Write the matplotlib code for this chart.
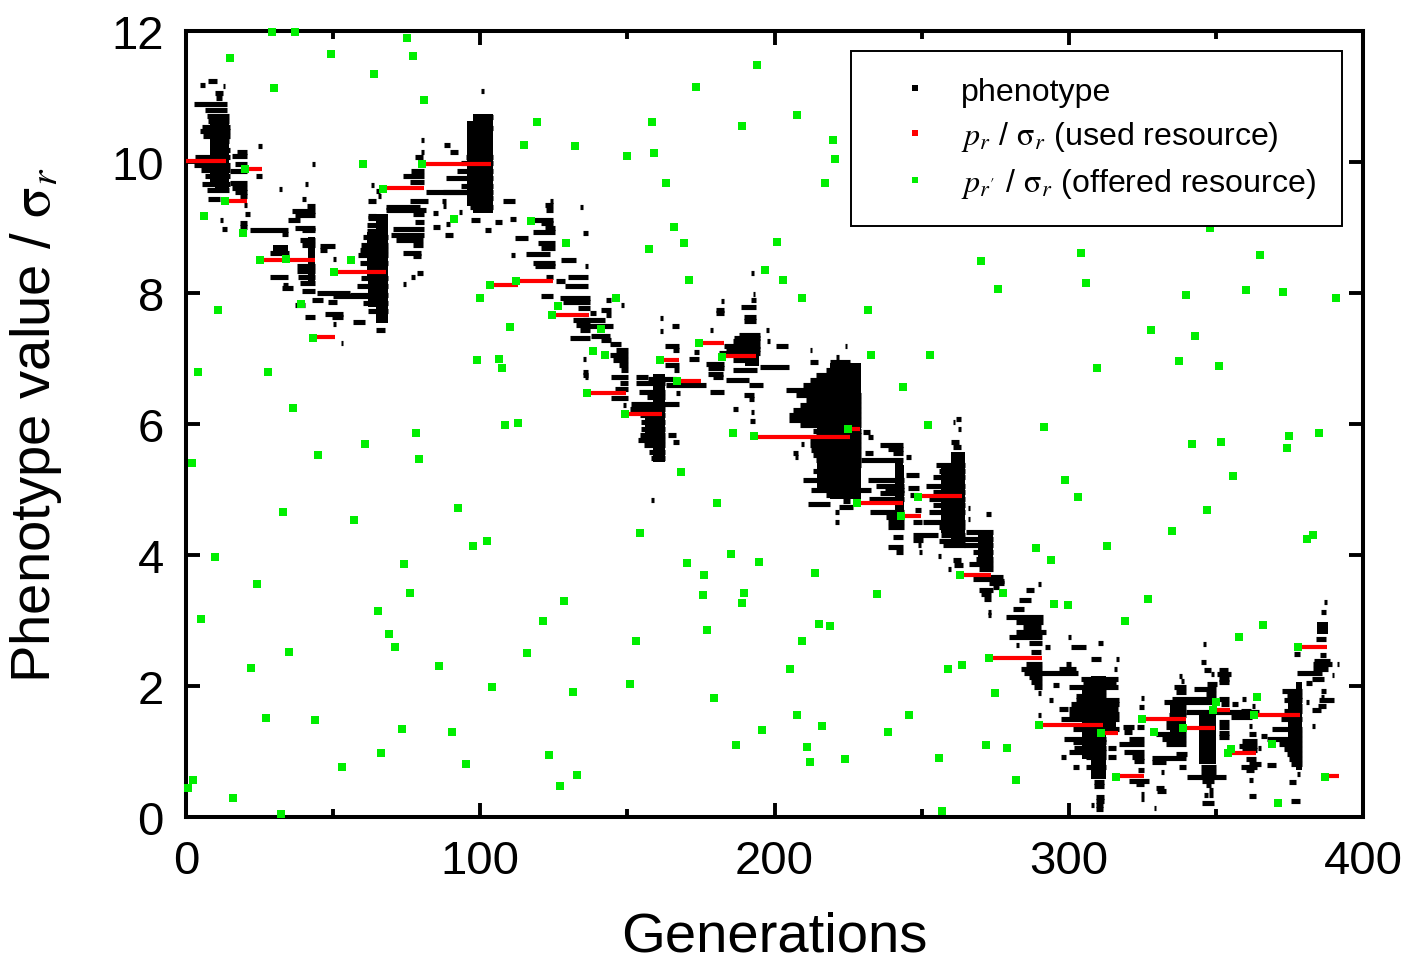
import matplotlib
matplotlib.use("Agg")
import matplotlib.pyplot as plt
from matplotlib.lines import Line2D

plt.rcParams['font.family'] = ['Liberation Sans', 'DejaVu Sans']
plt.rcParams['mathtext.fontset'] = 'stix'

# values were read against a baseline about 2 px too high
READ_OFFSET = 0.03

# used resource: start generation, end generation, value
used_start = [0, 13, 20, 25.1, 43.2, 50.1, 67, 80.1, 103.1, 112.2, 124.2, 136.2, 149, 161, 167.2, 174.1,
              182.2, 192.9, 225.1, 228, 243, 249, 263.2, 273, 290, 311.1, 316, 325, 339, 349, 354, 362.9, 378, 387]
used_end = [13.6, 20.8, 25.7, 43.8, 50.8, 67.8, 81, 103.8, 112.8, 124.7, 137, 149.6, 161.7, 167.7, 174.9, 182.8,
            193.6, 225.8, 228.9, 243.7, 249.8, 263.6, 273.6, 290.8, 311.7, 316.8, 325.7, 339.8, 349.7, 354.7, 363.5, 378.6, 387.6, 391.8]
used_value = [9.99, 9.37, 9.86, 8.48, 7.3, 8.29, 9.57, 9.94, 8.09, 8.16, 7.64, 6.44, 6.13, 6.94, 6.62, 7.2,
              7.01, 5.77, 5.89, 4.77, 4.57, 4.87, 3.67, 2.4, 1.38, 1.25, 0.59, 1.46, 1.33, 1.6, 0.94, 1.53, 2.56, 0.59]

# offered resources
offered_gen = [0.7, 2.4, 2, 4.1, 5.1, 6.1, 9.8, 10.9, 13.2, 14.9, 16, 19.4, 20, 22.1, 24.1, 25.1, 27.2, 27.8, 29.9, 29.2,
               32.3, 32.9, 34, 35, 36.3, 37, 39, 43.8, 44.8, 43.1, 49.2, 53, 50.3, 56, 57, 60, 61, 64, 65.2, 66.2,
               66.9, 69, 71, 73.3, 74, 75, 76, 77, 78, 79.1, 81, 80.1, 86, 90.3, 91, 92.4, 95, 97.5, 99, 99.8,
               102.2, 103.2, 106.3, 107.3, 103.9, 108.3, 110, 112.7, 112, 115, 119.2, 116, 117.2, 121.2, 123.3, 132.1,
               124.3, 126.3, 129, 127, 128.4, 131.4, 133, 136.2, 138.2, 146.3, 141.2, 142.3, 171.1, 196.9, 203, 209.2,
               231.9, 270.3, 276, 232.9, 253, 243.8, 252, 161, 174.2, 182.3, 167, 149.1, 192.9, 186, 225.1, 168.1,
               180.3, 228.2, 243.1, 248.9, 263.2, 154.2, 185.1, 194.9, 170.1, 175.9, 213.9, 173.2, 193.9, 188.8, 207.8,
               220, 220.7, 217, 201, 166, 169.4, 158.2, 158.9, 150, 163, 157.2, 348, 304, 306, 365, 360.3, 372.8,
               339.9, 390.8, 343, 328, 337.5, 351, 309.7, 291.7, 374.9, 385, 342, 351.8, 374.2, 355.9, 298.8, 303.2,
               347, 313, 335, 289, 294, 381, 383, 327, 295, 299.8, 277.8, 319.2, 366, 357.9, 378, 273, 263.8, 275,
               364, 350, 349, 363, 325, 290, 338.9, 329, 311, 369, 272, 279, 355, 354, 316, 282, 387, 371, 257, 256,
               245.8, 238.7, 224, 211.2, 212.2, 216.3, 207.5, 195.9, 187, 205.4, 209.5, 215, 219, 235, 188.8, 189.8,
               175.6, 176.9, 179.3, 152.8, 150.8, 259]
offered_value = [0.41, 0.54, 5.38, 6.77, 3, 9.14, 3.94, 7.71, 9.37, 11.56, 0.26, 8.88, 9.86, 2.25, 3.52, 8.47, 1.48, 6.76, 11.1, 11.96,
                 0.02, 4.63, 8.49, 2.49, 6.22, 11.96, 7.8, 1.45, 5.5, 7.29, 11.62, 0.73, 8.29, 8.47, 4.5, 9.94, 5.67, 11.31, 3.12, 0.95,
                 9.56, 2.77, 2.57, 1.32, 3.84, 11.87, 3.39, 11.59, 5.84, 5.43, 10.92, 9.94, 2.28, 1.27, 9.1, 4.69, 0.78, 4.1, 6.94, 7.9,
                 4.19, 8.09, 6.96, 6.82, 1.96, 5.95, 7.45, 5.98, 8.15, 10.23, 10.58, 2.48, 9.07, 2.97, 0.92, 10.21,
                 7.63, 7.77, 8.73, 0.44, 3.27, 1.88, 0.61, 6.44, 7.08, 7.89, 7.42, 7.03, 8.17, 8.32, 8.17, 7.9,
                 7.71, 8.46, 8.03, 7.02, 7.02, 6.53, 5.96, 6.94, 7.2, 7, 6.62, 6.13, 5.78, 5.83, 5.89, 5.23,
                 4.77, 4.77, 4.57, 4.86, 3.67, 4.3, 3.99, 3.87, 3.85, 3.67, 3.7, 11.12, 11.45, 10.52, 10.69,
                 10.31, 10.02, 9.65, 8.75, 8.98, 8.73, 10.58, 10.11, 10.06, 9.65, 8.64, 8.96, 8.58, 8.12, 8.55, 8.01, 7.98,
                 7.94, 7.89, 7.31, 7.4, 6.93, 6.85, 6.82, 5.93, 5.78, 5.83, 5.67, 5.69, 5.61, 5.18, 5.11, 4.86,
                 4.65, 4.11, 4.34, 4.07, 3.9, 4.22, 4.28, 3.3, 3.22, 3.2, 3.39, 2.97, 2.9, 2.72, 2.57, 2.4, 2.29, 1.87,
                 1.8, 1.73, 1.6, 1.53, 1.47, 1.38, 1.33, 1.27, 1.25, 1.09, 1.07, 1.02, 1.01, 0.95, 0.58, 0.54, 0.58, 0.18, 0.06, 0.87,
                 1.53, 1.27, 0.86, 1.04, 0.81, 1.36, 1.53, 1.3, 1.07, 2.23, 2.66, 2.92, 2.89, 3.38, 3.24, 3.39,
                 3.36, 2.83, 1.79, 2.65, 2, 2.23]

# phenotype: dense parts of the clouds (low value, high value, first gen, last gen)
dense_low = [9.52, 7.51, 8.07, 8.55, 9.19, 5.39, 4.83, 5.0, 4.07, 0.55, 0.78, 0.68, 2.77, 4.55, 6.85, 8.0,
             9.6, 8.2, 7.75, 9.3, 5.6, 4.3, 0.85, 1.3, 1.2, 1.0, 3.85, 4.95]
dense_high = [10.7, 9.17, 8.83, 8.71, 10.7, 6.74, 6.9, 5.4, 5.54, 2.13, 1.57, 2.03, 2.94, 5.35, 7.3, 8.3,
              10.65, 8.9, 8.2, 10.6, 6.3, 5.3, 1.95, 1.75, 1.72, 1.9, 4.32, 6.75]
dense_left = [9.8, 64.7, 41.5, 29.7, 97.6, 158.7, 219, 241, 260, 307.5, 344.3, 377.1, 384.5, 241, 190, 65,
              8, 61.5, 62, 95.5, 156, 256.5, 304.5, 312.6, 334.5, 374.5, 269, 214.5]
dense_right = [14.7, 68.7, 43.8, 34.7, 104.4, 162.7, 229.4, 243.6, 264.7, 312.6, 350, 379.4, 388, 243.9, 194.9, 68,
               9.8, 64.7, 64.7, 97.6, 158.7, 260, 307.5, 316, 339.8, 377.1, 274.2, 219]

# phenotype: streaks for each cloud (value, first gen, last gen)
cloud_a = [(11.21, 7.6, 10.6), (11.15, 4.8, 6.5), (11.13, 12.5, 13.2), (11.03, 9.8, 12.7), (10.95, 10.2, 12.1), (10.85, 2.7, 13.8),
           (10.77, 6.4, 13.8), (10.67, 7, 14.7), (10.6, 7.5, 14.7), (10.5, 5.3, 15), (10.44, 4.8, 15), (10.36, 5.9, 15),
           (10.29, 8.7, 14.7), (10.15, 8, 15), (10.04, 3, 15), (9.92, 2.7, 15), (9.85, 5, 15), (9.75, 6.5, 15),
           (9.63, 5.5, 15), (9.55, 7, 14.7)]
cloud_b = [(10.21, 24.6, 25.7), (10.13, 17.2, 20.6), (10.06, 15.5, 20.6), (9.94, 16.6, 20.6), (9.94, 42.7, 43.8), (9.83, 15, 20.6), (9.75, 23.8, 25.7),
           (9.65, 15, 20.6), (9.64, 40.4, 41.5), (9.57, 15.5, 20.6), (9.56, 31.6, 32.5), (9.51, 16.6, 20.6), (9.45, 18.4, 20.6), (9.41, 7.6, 11.5),
           (9.32, 19.7, 20.6), (9.17, 20, 21.7), (9.08, 11.5, 12.7), (9.04, 18.4, 20.6), (8.98, 18.4, 20.6), (8.95, 12.1, 13.8), (8.93, 21.7, 34.7),
           (8.87, 32.5, 34.7)]
cloud_c = [(9.4, 39.3, 40.8), (9.3, 41, 43.8), (9.22, 35.9, 43.8), (9.16, 37, 43.8), (9.08, 34.7, 38.7), (8.97, 37, 43.8), (8.93, 39.3, 43.8),
           (8.78, 38.7, 43.8), (8.71, 39.3, 43.8), (8.68, 45.6, 50.6), (8.63, 45.6, 48), (8.58, 28.5, 35), (8.49, 50, 51), (8.38, 37.6, 43.8),
           (8.3, 37.6, 43.8), (8.21, 28.5, 34.7), (8.22, 38, 43.8), (8.12, 38.7, 43.8), (8.04, 32.5, 36.4), (8.09, 33, 34.7), (8.0, 39.3, 43.8),
           (7.97, 44.4, 55.7), (7.93, 50, 68), (7.86, 42.7, 46.6), (7.84, 48.3, 51.2), (7.79, 37, 40.4), (7.65, 47.2, 53.4), (7.6, 40.6, 43.8),
           (7.6, 49.5, 53.4), (7.53, 56.8, 60.8), (7.49, 49.8, 51), (7.41, 64.7, 67.6), (7.21, 52.6, 53.4)]
cloud_d = [(9.11, 62, 68.2), (9.01, 61.5, 68.2), (8.91, 61.5, 68.2), (8.83, 60.2, 68.7), (8.71, 59.6, 68.7), (8.62, 59, 68.7), (8.55, 58.5, 68.7),
           (8.43, 59.1, 68.7), (8.2, 59.6, 68.7), (8.07, 58, 68.7), (7.94, 55.7, 68.7), (7.82, 60.2, 68.7), (7.69, 62, 68.7),
           (8.1, 73.8, 74.7), (8.22, 76.6, 77.8), (8.27, 78.5, 80.6)]
cloud_e = [(10.31, 80, 81), (10.13, 80, 81), (10.04, 77.8, 80.6), (9.84, 76.6, 81), (9.75, 73.8, 81), (9.66, 76, 81), (9.62, 63, 64),
           (9.52, 64.7, 65.9), (9.45, 65.2, 66.2), (9.37, 62, 64.7), (9.37, 76, 82.3), (9.29, 68.1, 79.5), (9.23, 68.1, 81.7),
           (9.14, 62, 64.7), (9.17, 77.2, 81), (9.06, 77.8, 81), (8.95, 70.4, 81), (8.86, 69.8, 81), (8.78, 71.5, 80.6), (8.71, 77.2, 80.6),
           (8.58, 73.8, 80), (8.53, 77.2, 80)]
cloud_f = [(11.05, 100.2, 101.2), (10.65, 97.6, 104.4), (10.49, 96.4, 104.4), (10.23, 87.6, 89.6), (10.12, 89.6, 92.5), (10.05, 95.3, 104.4), (9.95, 93.6, 104.4),
           (9.83, 92, 104.4), (9.73, 88.5, 104.4), (9.6, 93.6, 104.4), (9.51, 81.7, 96.4), (9.51, 87.4, 104.4), (9.42, 96.4, 104.4), (9.28, 96.4, 104.4),
           (9.37, 87, 88.5), (9.3, 87.4, 88.5), (9.19, 84, 85.7), (8.98, 84, 86.3), (8.86, 88, 90.8), (9.02, 88.5, 89.7), (9.2, 92.8, 93.8),
           (9.08, 97, 99.8), (9.05, 105, 107.5), (8.93, 101.5, 103.8), (9.1, 110, 112.3), (9.37, 107.8, 111.7)]
cloud_g = [(9.37, 123.6, 124.7), (9.32, 122, 124.7), (9.23, 122.5, 124.7), (9.29, 134, 135), (9.09, 116.8, 124.7), (9.04, 120.8, 124.7), (8.96, 121.9, 125.3),
           (8.9, 118, 125.3), (8.89, 135, 136.6), (8.81, 111.7, 116.3), (8.73, 119.7, 125.3), (8.66, 120.8, 125.3), (8.56, 115.7, 123.6), (8.55, 110.6, 111.7),
           (8.48, 127.6, 132.7), (8.43, 118, 125.3), (8.38, 118.5, 125.3), (8.38, 135.5, 136.6), (8.22, 122.5, 124.7), (8.15, 125.9, 128.7), (8.22, 129.8, 136.6),
           (8.07, 128.7, 136.6), (7.92, 120.8, 124.7), (7.89, 127, 137.2), (7.84, 128, 137.2), (7.74, 133.2, 137.2), (7.56, 131.5, 137.2), (7.48, 132.7, 137.2),
           (7.41, 134, 137.2), (7.28, 130.4, 137.2), (7.66, 137.2, 139.3), (6.97, 135, 136), (6.77, 135, 136.6), (6.69, 135.6, 136.6)]
cloud_h = [(7.86, 142.8, 144.5), (7.79, 148, 149), (7.71, 141.1, 144.5), (7.63, 142.8, 144.5), (7.56, 135, 142.3), (7.46, 135.5, 145), (7.32, 137.8, 144), (7.25, 141, 144.5),
           (7.19, 144, 148), (7.1, 146.2, 150.2), (7.02, 144, 150.2), (6.95, 145, 150.2), (6.87, 147, 150.2), (6.79, 148, 150.2), (6.72, 135, 136.6), (6.68, 144.5, 150.2),
           (6.68, 153, 157), (6.59, 147.4, 150.2), (6.51, 145.7, 150.2), (6.36, 144.5, 150.2), (6.26, 148.5, 149.5)]
cloud_i = [(6.66, 157, 162.7), (6.6, 153, 162.7), (6.46, 154, 162.7), (6.38, 156.5, 162.7), (6.27, 151.3, 167.7), (6.2, 150.8, 162.7), (6.1, 154.2, 162.7), (6.0, 154.7, 162.7),
           (5.9, 154.7, 162.7), (5.8, 154.2, 162.7), (5.8, 163.8, 166.6), (5.72, 153.6, 162.7), (5.7, 165.5, 167.7), (5.65, 155.8, 162.7), (5.55, 157.5, 162.7), (5.45, 158, 162.7),
           (6.44, 166.6, 168), (6.65, 161, 166.6), (6.56, 163.2, 176.8), (7.59, 161, 162), (7.39, 161, 162), (7.46, 165, 167.5), (7.16, 162.7, 167.7), (7.1, 165.5, 167.7),
           (6.97, 171, 174.5), (7.07, 172.8, 174.5), (6.87, 162.7, 167.7), (6.79, 166, 167.7), (4.81, 158, 159)]
cloud_j = [(8.27, 192, 193), (7.96, 192.7, 193.5), (7.86, 192, 193.8), (7.85, 181.9, 182.9), (7.76, 188.7, 193.8), (7.71, 180.2, 183), (7.66, 180, 183), (7.61, 189.8, 193.8),
           (7.54, 189.8, 193.8), (7.4, 178, 179), (7.4, 197, 198), (7.33, 188, 195), (7.28, 186.4, 195), (7.23, 185.9, 195), (7.16, 183, 195), (7.16, 200.6, 204.5),
           (7.11, 183.6, 195), (7.24, 197.5, 198.5), (7.05, 181.3, 195), (6.94, 185.9, 193.8), (6.88, 176.8, 183), (6.82, 177.4, 183), (6.8, 186, 194),
           (6.74, 177.4, 182.5), (6.84, 195, 205), (6.69, 179, 182.5), (6.64, 183.6, 191.5), (6.56, 191.5, 196), (6.46, 178, 183), (6.41, 189.8, 193.2), (6.35, 191.5, 193),
           (6.2, 185.9, 187.6), (6.15, 192, 193.2), (6.01, 191.7, 193.4)]
cloud_k = [(6.92, 218.7, 225.5), (6.87, 219.2, 226), (6.79, 217.5, 226.6), (6.72, 214.2, 227.2), (6.64, 212, 227.7), (6.56, 209.6, 228.3), (6.49, 204, 228.9), (6.41, 207.4, 229.4),
           (6.33, 210.8, 229.4), (6.26, 208.5, 229.4), (6.18, 206.2, 229.4), (6.1, 205, 229.4), (6.03, 205, 229.4), (5.95, 208.5, 229.4), (5.87, 213, 229.4), (5.8, 214, 229.4),
           (5.72, 212, 229.4), (5.65, 212, 229.4), (5.57, 212.5, 229.4), (5.49, 213, 229.4), (5.42, 214, 229.4), (5.34, 214.7, 229.4), (5.26, 213, 229), (5.19, 215.3, 228.5),
           (5.11, 209.6, 227.2), (5.03, 216.4, 227.2), (4.96, 212.5, 226.6), (4.88, 217.5, 225.5), (4.8, 223.2, 225.5), (4.75, 211.3, 218.7), (4.7, 222, 226.6),
           (7.16, 223.8, 224.8), (7.1, 211.9, 212.9), (7.0, 220.9, 222), (6.91, 212, 214.7), (4.63, 220.4, 222), (4.47, 220.4, 222), (5.52, 206.2, 208), (5.47, 206.8, 208),
           (5.67, 209, 210), (5.85, 230, 232.3), (5.77, 231.7, 233.4)]
cloud_l = [(5.65, 235.7, 243.6), (5.59, 238.5, 243.6), (5.52, 230.6, 233.4), (5.52, 240.2, 243.6), (5.46, 244.7, 246.4), (5.42, 229.4, 243.6), (5.19, 244.7, 249.2), (5.11, 231.7, 244.1),
           (5.03, 234.5, 244.1), (4.96, 227.2, 232.8), (4.96, 237.4, 244.1), (4.91, 235.7, 244.1), (4.82, 232, 244.1), (5.0, 245.3, 249.2), (4.88, 246, 248.7),
           (4.62, 232.3, 244.1), (4.55, 238, 244.1), (4.47, 238.5, 244.1), (4.4, 238.5, 244.1), (4.47, 247, 250), (4.24, 240.2, 243.6), (4.09, 238.5, 243.6), (4.01, 241.3, 243.6),
           (4.27, 247, 255.5), (4.2, 247, 250.4), (4.12, 248.7, 249.8), (4.01, 249, 250), (4.65, 247.8, 249.8)]
cloud_m = [(6.05, 261.7, 263.4), (6.0, 260.5, 261.5), (5.9, 262.5, 263.5), (5.7, 260, 262.8), (5.62, 260.6, 263.4), (5.34, 255, 264.7), (5.26, 256, 264.7), (5.16, 253.8, 264.7),
           (5.03, 251.5, 264.7), (4.93, 253.8, 264.7), (4.83, 252.6, 264.7), (4.73, 253.8, 264.7), (4.63, 252.6, 264.7), (4.47, 250.4, 264.7), (4.4, 256, 264.7), (4.27, 256.6, 264.7),
           (4.19, 256, 264.7), (4.12, 257.2, 264.7), (3.96, 255.5, 256.6), (3.89, 260.6, 263.4), (3.81, 261.1, 264), (3.76, 258.9, 260)]
cloud_n = [(4.68, 265.6, 266.6), (4.52, 265.6, 266.6), (4.6, 272, 273.5), (4.32, 265, 274.2), (4.22, 264.5, 274.2), (4.12, 264.5, 274.2), (4.01, 267.4, 274.2), (3.91, 268.5, 274.2), (3.84, 266.2, 274.2),
           (3.76, 269.6, 274.2), (3.61, 267.4, 276.4), (3.55, 273, 278), (3.48, 274.2, 276.4)]
cloud_o = [(3.63, 270.7, 277.5), (3.58, 274.1, 278.1), (3.53, 289.4, 290.5), (3.43, 269.6, 274.1), (3.43, 285.4, 288.3), (3.37, 270.2, 273.5), (3.29, 283.2, 287.1), (3.3, 271.3, 273.5), (3.15, 280.9, 284.9),
           (3.1, 272.4, 273.5), (3.05, 272.4, 273.5), (3.02, 278.6, 291.1), (2.94, 282, 291.1), (2.87, 284.3, 290.5), (2.79, 282, 292.2), (2.72, 279.8, 291), (2.72, 299.8, 300.7), (2.63, 286.6, 291),
           (2.59, 282.1, 283), (2.56, 292, 293.5), (2.56, 300.7, 305.8), (2.63, 309.8, 311.5), (2.49, 287.1, 290.5), (2.38, 307.5, 310.9), (2.38, 316, 317), (2.31, 285.4, 291),
           (2.23, 283.7, 291), (2.23, 296.8, 302.4), (2.17, 284.9, 303), (2.3, 299, 300.7), (2.23, 315.4, 316.4), (2.1, 286.6, 291), (2.03, 287.1, 291), (1.95, 288.3, 291), (1.87, 289.4, 290.5)]
cloud_p = [(2.08, 304, 316.6), (1.98, 294.5, 296.8), (2.03, 304.7, 316), (1.95, 300.1, 316.6), (1.9, 304.7, 312.6), (1.82, 302.4, 312.6), (1.75, 293.4, 294.5), (1.75, 302.4, 317), (1.69, 300.7, 317), (1.62, 296.8, 299.6),
           (1.62, 300.1, 316.6), (1.54, 300.1, 317), (1.47, 297.3, 317.1), (1.52, 289.6, 290.6), (1.31, 301.3, 317), (1.16, 298.5, 312.6), (1.11, 301.3, 312.6), (1.03, 301.9, 312.6), (0.96, 300.1, 312.6),
           (0.88, 297.3, 299), (0.88, 305.8, 312.6), (0.74, 301.3, 303.5), (0.73, 305.8, 312.6), (0.68, 308, 312), (0.5, 308.6, 312), (0.45, 308.6, 312), (0.27, 309.2, 312), (0.22, 309.2, 312),
           (0.15, 307.5, 308.6), (0.15, 309.4, 311.5), (0.09, 309.4, 311.5)]
cloud_q = [(1.79, 324.6, 325.6), (1.65, 324, 325.5), (1.34, 318.3, 322.2), (1.27, 318.9, 321.6), (1.34, 323.3, 325.6), (1.16, 320.5, 325.6), (1.08, 317.1, 325.6), (1.03, 313.2, 316), (0.96, 318.9, 325.6), (0.88, 313.2, 316),
           (0.89, 321.6, 325.6), (0.83, 322.2, 325.6), (0.69, 323.4, 325.6), (0.52, 320.5, 327.3), (0.47, 322.8, 325.6), (0.32, 324.5, 325.6), (0.25, 324.5, 325.6), (0.42, 329.6, 332.4), (0.37, 330.1, 332.9), (0.1, 329, 329.8)]
cloud_r = [(2.13, 337.5, 338.5), (2.05, 338.3, 339.3), (1.95, 335.8, 339.8), (1.88, 336.4, 339.8), (1.77, 335.2, 350), (1.72, 332.4, 350), (1.65, 335.2, 339.8), (1.58, 337, 339.8), (1.52, 334, 339.8), (1.42, 333, 339.5),
           (1.34, 333, 339.8), (1.24, 329.6, 339.8), (1.16, 331.8, 339.8), (1.08, 333, 339.8), (0.93, 336.4, 340.3), (0.87, 328.4, 339.8), (0.81, 328.4, 333), (0.74, 337.5, 339.8), (0.66, 331.4, 332.4)]
cloud_s = [(2.61, 345.5, 346.5), (2.33, 344.9, 346.5), (2.21, 346, 348.2), (2.15, 348.2, 349.4), (2.22, 351, 354), (2.15, 350.5, 355), (2.08, 351, 354.5), (2.0, 347, 350.5), (2.03, 351, 354.5), (1.93, 342.6, 350), (1.85, 346.5, 350),
           (1.77, 351, 354.5), (1.7, 351.6, 354.5), (1.57, 339.8, 364.7), (1.49, 355, 362.4), (1.42, 351, 354.5), (1.34, 351, 354.5), (1.26, 351, 354.5), (1.19, 351, 354.5), (0.73, 344.9, 350), (0.65, 344.9, 350), (0.58, 340.3, 353.4),
           (0.52, 345.4, 349.4), (0.46, 346.6, 348.2), (0.38, 347.8, 349), (0.3, 346, 347.2), (0.3, 347.8, 349), (0.19, 345.4, 349.4)]
cloud_t = [(1.77, 359, 360.2), (1.7, 355.6, 357.4), (1.67, 362.4, 363.4), (1.59, 358.4, 361.8), (1.36, 361.3, 362.3), (1.24, 361.3, 363.5), (1.13, 359, 364), (1.06, 357.9, 364), (1, 359, 364), (0.85, 360.1, 363.5),
           (0.78, 361.3, 365.2), (0.73, 358.4, 364), (0.68, 360.1, 363), (0.54, 361.3, 362.6), (0.29, 361.3, 363.5), (0.77, 367.5, 370.3), (1.2, 365.2, 367.5), (1.03, 364.2, 365.2)]
cloud_u = [(1.9, 372.6, 379.4), (1.82, 374.3, 379.4), (1.75, 373.2, 379.4), (1.67, 374.9, 379.4), (1.59, 373.2, 379.4), (1.47, 372, 379.4), (1.31, 369.2, 379.4), (1.23, 376, 379.4), (1.16, 367.5, 379.4), (1.08, 371.5, 379.4),
           (1.01, 373.2, 379.4), (0.93, 374.3, 379.4), (0.85, 374.9, 379.4), (0.78, 375.4, 379.4), (0.62, 377.6, 378.6), (0.51, 374.9, 377.3), (0.21, 375.4, 378.6)]
cloud_v = [(3.25, 386.9, 387.9), (3.1, 385.6, 387.3), (2.69, 384, 387.3), (2.46, 376.6, 378.5), (2.44, 385.3, 387.3), (2.35, 383.5, 388.7), (2.3, 383, 389.3), (2.3, 391, 391.9), (2.23, 383, 388), (2.17, 377.7, 386.2), (2.14, 389.3, 390.3),
           (2.08, 382.5, 386.6), (2.01, 380.5, 382.8), (1.9, 385.6, 387.3), (1.8, 385.6, 386.6), (1.75, 385, 390), (1.72, 380.6, 381.6), (1.67, 384.7, 387.3), (1.6, 382.8, 385.6), (1.36, 382.8, 383.8)]

phenotype_clouds = [cloud_a, cloud_b, cloud_c, cloud_d, cloud_e, cloud_f, cloud_g, cloud_h, cloud_i, cloud_j, cloud_k,
                    cloud_l, cloud_m, cloud_n, cloud_o, cloud_p, cloud_q, cloud_r, cloud_s, cloud_t, cloud_u, cloud_v]

fig = plt.figure(figsize=(14.16, 9.62), dpi=100)
ax = fig.add_axes([186 / 1416, 1 - 818 / 962, (1363 - 186) / 1416, (818 - 32) / 962])

ax.bar(dense_left, [h - l for h, l in zip(dense_high, dense_low)], [r - l for r, l in zip(dense_right, dense_left)],
       bottom=[l + READ_OFFSET for l in dense_low], align='edge', color='black', linewidth=0, zorder=2)
for cloud in phenotype_clouds:
    ax.hlines([c[0] + READ_OFFSET for c in cloud], [c[1] for c in cloud], [c[2] for c in cloud],
              color='black', linewidth=3.7, zorder=2)

ax.hlines([v + READ_OFFSET for v in used_value], used_start, used_end, color='#ff0000', linewidth=3.0, zorder=3)
ax.plot(offered_gen, [v + READ_OFFSET for v in offered_value], ls='none', marker='s', ms=5.4, mew=0,
        color='#00ee00', zorder=4, clip_on=False)

ax.set_xlim(0, 400)
ax.set_ylim(0, 12)
ax.set_xticks([0, 100, 200, 300, 400])
ax.set_xticks([50, 150, 250, 350], minor=True)
ax.set_yticks([0, 2, 4, 6, 8, 10, 12])
ax.tick_params(which='major', direction='in', length=10, width=2.8, top=True, right=True, labelsize=34, pad=16)
ax.tick_params(which='minor', direction='in', length=5.5, width=2.8, top=True, right=True)
for spine in ax.spines.values():
    spine.set_linewidth(2.9)

ax.set_xlabel('Generations', fontsize=40.5, labelpad=20)
ax.set_ylabel(r'Phenotype value / $\mathrm{\sigma}_{r}$', fontsize=40.5, labelpad=34)

handles = [Line2D([], [], ls='none', marker='s', ms=4.4, mew=0, color='black'),
           Line2D([], [], ls='none', marker='s', ms=4.4, mew=0, color='#ff0000'),
           Line2D([], [], ls='none', marker='s', ms=4.4, mew=0, color='#00ee00')]
labels = ['phenotype', r'$p_{r}$ / $\mathrm{\sigma}_{r}$ (used resource)', r"$p_{r'}$ / $\mathrm{\sigma}_{r}$ (offered resource)"]
ax.legend(handles, labels, loc='upper right', bbox_to_anchor=(1 - 21 / 1177, 1 - 20 / 786), borderaxespad=0, fontsize=23.1,
          fancybox=False, framealpha=1, edgecolor='black', borderpad=0.8, handlelength=2.35, handletextpad=0.28,
          labelspacing=0.4).get_frame().set_linewidth(1.4)

fig.savefig('out.png', dpi=100)
